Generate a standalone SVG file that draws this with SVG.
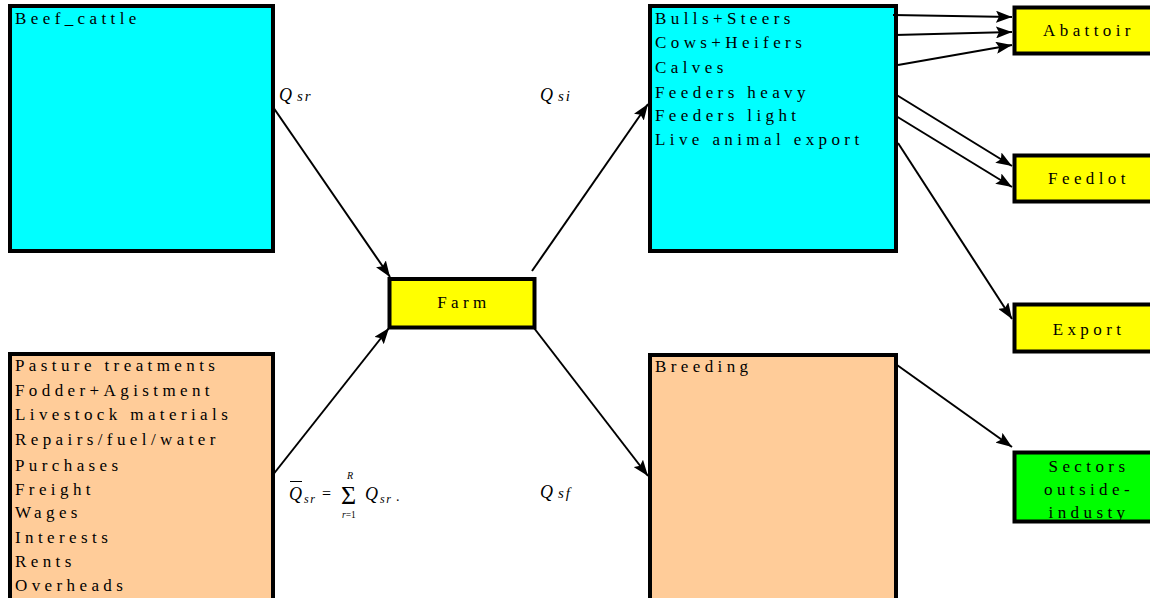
<svg xmlns="http://www.w3.org/2000/svg" width="1150" height="598" viewBox="0 0 1150 598">
<style>
.box{stroke:#000;stroke-width:4}
.cy{fill:#00ffff}
.or{fill:#ffcc99}
.ye{fill:#ffff00}
.gr{fill:#00ff00}
.t{font-family:'Liberation Serif','DejaVu Serif',serif;font-size:17px;letter-spacing:4.4px;fill:#000}
.c{text-anchor:middle}
.m{font-family:'Liberation Serif','DejaVu Serif',serif;font-style:italic;fill:#000}
.r{font-family:'Liberation Serif','DejaVu Serif',serif;fill:#000}
.ln{stroke:#000;stroke-width:2;fill:none}
</style>
<defs>
<marker id="ah" markerUnits="userSpaceOnUse" markerWidth="17" markerHeight="12" refX="16" refY="6" orient="auto">
<path d="M0,0 L16,6 L0,12 L3,6 Z" fill="#000"/>
</marker>
</defs>
<rect width="1150" height="598" fill="#fff"/>
<g id="beef_cattle">
<rect class="box cy" x="10" y="6" width="263" height="245"/>
<text class="t" x="15" y="24">Beef_cattle</text>
</g>
<g id="costs">
<rect class="box or" x="10" y="354" width="263" height="250"/>
<text class="t" x="15" y="371">Pasture treatments</text>
<text class="t" x="15" y="396">Fodder+Agistment</text>
<text class="t" x="15" y="420">Livestock materials</text>
<text class="t" x="15" y="445">Repairs/fuel/water</text>
<text class="t" x="15" y="471">Purchases</text>
<text class="t" x="15" y="495">Freight</text>
<text class="t" x="15" y="518">Wages</text>
<text class="t" x="15" y="543">Interests</text>
<text class="t" x="15" y="567">Rents</text>
<text class="t" x="15" y="591">Overheads</text>
</g>
<g id="farm">
<rect class="box ye" x="389.5" y="279" width="145" height="48.5" stroke-width="5"/>
<text class="t c" x="464" y="308">Farm</text>
</g>
<g id="products">
<rect class="box cy" x="650" y="6" width="246" height="245"/>
<text class="t" x="655" y="24">Bulls+Steers</text>
<text class="t" x="655" y="48">Cows+Heifers</text>
<text class="t" x="655" y="73">Calves</text>
<text class="t" x="655" y="98">Feeders heavy</text>
<text class="t" x="655" y="121">Feeders light</text>
<text class="t" x="655" y="145">Live animal export</text>
</g>
<g id="breeding">
<rect class="box or" x="650" y="355" width="246" height="250"/>
<text class="t" x="655" y="372">Breeding</text>
</g>
<g id="abattoir">
<rect class="box ye" x="1014.5" y="7.5" width="145" height="46" stroke-width="5"/>
<text class="t c" x="1089" y="36">Abattoir</text>
</g>
<g id="feedlot">
<rect class="box ye" x="1014.5" y="155.5" width="145" height="46" stroke-width="5"/>
<text class="t c" x="1089" y="184">Feedlot</text>
</g>
<g id="export">
<rect class="box ye" x="1014.5" y="304.5" width="145" height="47" stroke-width="5"/>
<text class="t c" x="1089" y="335">Export</text>
</g>
<g id="sectors">
<rect class="box gr" x="1014.5" y="452.5" width="145" height="69" stroke-width="5"/>
<text class="t c" x="1089" y="472">Sectors</text>
<text class="t c" x="1089" y="495">outside-</text>
<text class="t c" x="1089" y="518">industy</text>
</g>
<g id="labels">
<text class="m" x="279" y="101" font-size="18">Q<tspan dx="5" font-size="15" letter-spacing="2">sr</tspan></text>
<text class="m" x="540" y="101" font-size="18">Q<tspan dx="5" font-size="15" letter-spacing="2">si</tspan></text>
<text class="m" x="540" y="498" font-size="18">Q<tspan dx="5" font-size="15" letter-spacing="2">sf</tspan></text>
<g id="formula">
<text class="m" x="289" y="500" font-size="18">Q</text>
<line x1="290" y1="481.5" x2="302" y2="481.5" stroke="#000" stroke-width="1"/>
<text class="m" x="304" y="503" font-size="12" letter-spacing="1.5">sr</text>
<text class="r" x="322" y="499" font-size="16">=</text>
<text class="r" x="341" y="504" font-size="26">Σ</text>
<text class="m" x="347" y="479" font-size="10">R</text>
<text class="r" x="342" y="518" font-size="9.5"><tspan font-style="italic">r</tspan>=1</text>
<text class="m" x="365" y="500" font-size="18">Q</text>
<text class="m" x="380" y="503" font-size="12" letter-spacing="1.5">sr</text>
<text class="r" x="396" y="501" font-size="14">.</text>
</g>
</g>
<g id="connectors">
<line class="ln" x1="273" y1="107" x2="390" y2="277" marker-end="url(#ah)"/>
<line class="ln" x1="272" y1="476" x2="389" y2="328" marker-end="url(#ah)"/>
<line class="ln" x1="532" y1="271" x2="648" y2="104" marker-end="url(#ah)" stroke-width="3"/>
<line class="ln" x1="534" y1="328" x2="648" y2="476" marker-end="url(#ah)" stroke-width="3"/>
<line class="ln" x1="893" y1="15" x2="1012" y2="17" marker-end="url(#ah)" stroke-width="3"/>
<line class="ln" x1="895" y1="35" x2="1012" y2="32" marker-end="url(#ah)" stroke-width="3"/>
<line class="ln" x1="898" y1="65" x2="1012" y2="45" marker-end="url(#ah)"/>
<line class="ln" x1="895" y1="94" x2="1012" y2="166" marker-end="url(#ah)"/>
<line class="ln" x1="896" y1="116" x2="1012" y2="187" marker-end="url(#ah)"/>
<line class="ln" x1="898" y1="143" x2="1012" y2="319" marker-end="url(#ah)"/>
<line class="ln" x1="897" y1="365" x2="1012" y2="447" marker-end="url(#ah)"/>
</g>
</svg>
